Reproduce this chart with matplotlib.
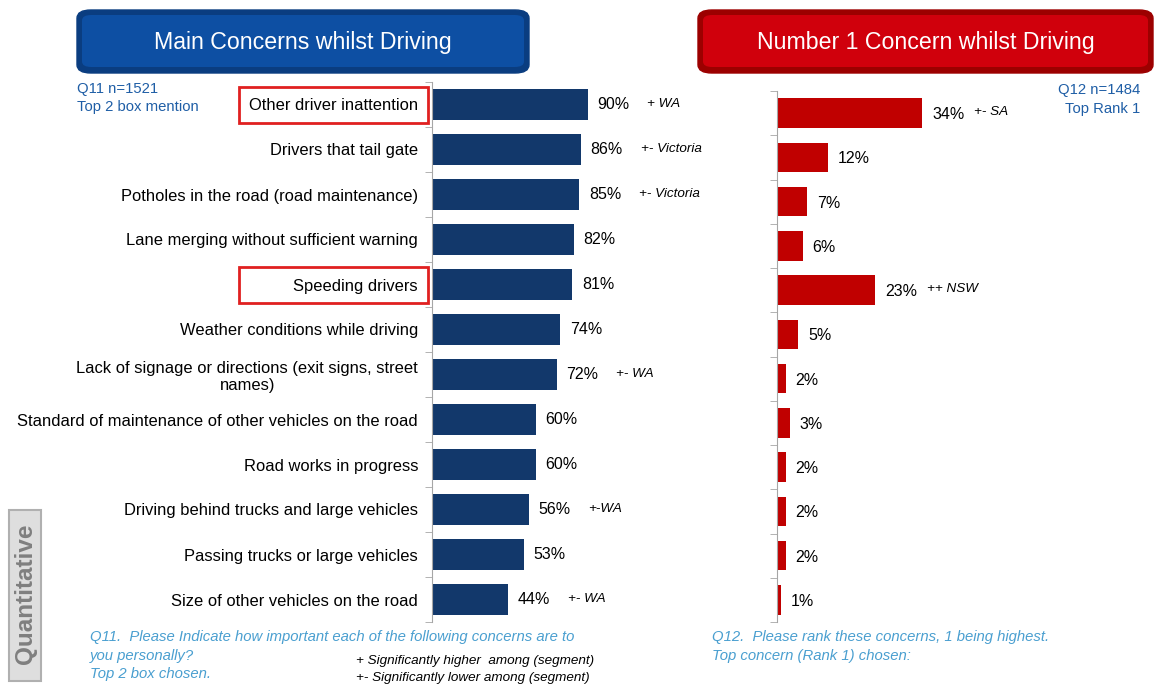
import matplotlib
matplotlib.use('Agg')
import matplotlib.pyplot as plt
import matplotlib.patches as mpatches
import matplotlib.transforms as mtransforms
import numpy as np

plt.rcParams['font.family'] = ['Liberation Sans', 'DejaVu Sans']

# main concerns, top 2 box (Q11)
concerns = ["Other driver inattention",
            "Drivers that tail gate",
            "Potholes in the road (road maintenance)",
            "Lane merging without sufficient warning",
            "Speeding drivers",
            "Weather conditions while driving",
            "Lack of signage or directions (exit signs, street\nnames)",
            "Standard of maintenance of other vehicles on the road",
            "Road works in progress",
            "Driving behind trucks and large vehicles",
            "Passing trucks or large vehicles",
            "Size of other vehicles on the road"]
top2 = [90, 86, 85, 82, 81, 74, 72, 60, 60, 56, 53, 44]
top2_sig = ["+ WA", "+- Victoria", "+- Victoria", "", "", "", "+- WA", "", "", "+-WA", "", "+- WA"]

# number 1 concern (Q12)
rank1 = [34, 12, 7, 6, 23, 5, 2, 3, 2, 2, 2, 1]
rank1_sig = ["+- SA", "", "", "", "++ NSW", "", "", "", "", "", "", ""]

highlighted = [0, 4]

NAVY = '#12386b'
RED = '#c00000'
NOTE_BLUE = '#4a9fd0'
HEAD_BLUE = '#1f5ea6'

fig = plt.figure(figsize=(11.54, 6.86), dpi=100)
W, H = 1154.0, 686.0


def px(x0, y0, x1, y1):
    # pixel box -> figure fraction [left, bottom, width, height]
    return [x0 / W, 1 - y1 / H, (x1 - x0) / W, (y1 - y0) / H]


def style_axis(ax, n):
    for s in ['top', 'right', 'bottom']:
        ax.spines[s].set_visible(False)
    ax.spines['left'].set_color('#a6a6a6')
    ax.set_ylim(n - 0.5, -0.5)
    ax.set_xticks([])
    ax.set_yticks(np.arange(n + 1) - 0.5, minor=True)
    ax.tick_params(axis='y', which='minor', length=5, color='#a6a6a6', direction='out')
    ax.tick_params(axis='y', which='major', length=0)


n = len(concerns)
y = np.arange(n)

# left panel
ax1 = fig.add_axes(px(432, 82, 605, 622))
ax1.barh(y, top2, height=0.67, color=NAVY)
ax1.set_xlim(0, 100)
style_axis(ax1, n)
ax1.set_yticks(y)
ax1.set_yticklabels(concerns, fontsize=11.9)
ax1.tick_params(axis='y', which='major', pad=10)
for lab in ax1.get_yticklabels():
    lab.set_multialignment('center')
for i, v in enumerate(top2):
    ax1.annotate(f"{v}%", (v, i), xytext=(7, 0), textcoords='offset points',
                 va='center', ha='left', fontsize=11.5)
    if top2_sig[i]:
        ax1.annotate(top2_sig[i], (v, i), xytext=(43, 0.5), textcoords='offset points',
                     va='center', ha='left', fontsize=9.7, style='italic')

# red outlines round the highlighted labels
tr = mtransforms.blended_transform_factory(fig.transFigure, ax1.transData)
for r in highlighted:
    ax1.add_patch(mpatches.Rectangle((239 / W, r - 0.4), 189 / W, 0.8, transform=tr,
                                     fill=False, edgecolor='#e02020', lw=2, clip_on=False))

# right panel
ax2 = fig.add_axes(px(777, 91, 948, 622))
ax2.barh(y, rank1, height=0.67, color=RED)
ax2.set_xlim(0, 40)
style_axis(ax2, n)
ax2.set_yticks(y)
ax2.set_yticklabels([])
for i, v in enumerate(rank1):
    ax2.annotate(f"{v}%", (v, i), xytext=(7, -1), textcoords='offset points',
                 va='center', ha='left', fontsize=11.5)
    if rank1_sig[i]:
        ax2.annotate(rank1_sig[i], (v, i), xytext=(37, 0.5), textcoords='offset points',
                     va='center', ha='left', fontsize=9.7, style='italic')


# header boxes
def header(x0, x1, dark, face, text):
    outer = mpatches.FancyBboxPatch((x0 / W, 1 - 73 / H), (x1 - x0) / W, 63 / H,
                                    boxstyle='round,pad=0,rounding_size=0.012',
                                    transform=fig.transFigure, facecolor=dark,
                                    edgecolor=dark, lw=1)
    inner = mpatches.FancyBboxPatch(((x0 + 5) / W, 1 - 67 / H), (x1 - x0 - 10) / W, 52 / H,
                                    boxstyle='round,pad=0,rounding_size=0.008',
                                    transform=fig.transFigure, facecolor=face,
                                    edgecolor='none')
    fig.patches.extend([outer, inner])
    fig.text((x0 + x1) / 2 / W, 1 - 42 / H, text, color='white', fontsize=16.7,
             ha='center', va='center')


header(77, 529, '#0a3d80', '#0d4fa3', "Main Concerns whilst Driving")
header(698, 1153, '#9c0000', '#d0000c', "Number 1 Concern whilst Driving")

# sample notes
fig.text(77 / W, 1 - 89 / H, "Q11 n=1521", color=HEAD_BLUE, fontsize=10.7, va='center')
fig.text(77 / W, 1 - 107 / H, "Top 2 box mention", color=HEAD_BLUE, fontsize=10.7, va='center')
fig.text(1140 / W, 1 - 90 / H, "Q12 n=1484", color=HEAD_BLUE, fontsize=10.7, va='center', ha='right')
fig.text(1140 / W, 1 - 109 / H, "Top Rank 1", color=HEAD_BLUE, fontsize=10.7, va='center', ha='right')

# question footnotes
fig.text(90 / W, 1 - 637 / H, "Q11.  Please Indicate how important each of the following concerns are to",
         color=NOTE_BLUE, fontsize=10.7, style='italic', va='center')
fig.text(90 / W, 1 - 656 / H, "you personally?", color=NOTE_BLUE, fontsize=10.7, style='italic', va='center')
fig.text(90 / W, 1 - 674 / H, "Top 2 box chosen.", color=NOTE_BLUE, fontsize=10.7, style='italic', va='center')
fig.text(356 / W, 1 - 661 / H, "+ Significantly higher  among (segment)", fontsize=9.7,
         style='italic', va='center')
fig.text(356 / W, 1 - 678 / H, "+- Significantly lower among (segment)", fontsize=9.7,
         style='italic', va='center')
fig.text(712 / W, 1 - 637 / H, "Q12.  Please rank these concerns, 1 being highest.",
         color=NOTE_BLUE, fontsize=10.7, style='italic', va='center')
fig.text(712 / W, 1 - 656 / H, "Top concern (Rank 1) chosen:",
         color=NOTE_BLUE, fontsize=10.7, style='italic', va='center')

# side tab
fig.patches.append(mpatches.Rectangle((9 / W, 1 - 681 / H), 32 / W, 171 / H,
                                      transform=fig.transFigure, facecolor='#dedede',
                                      edgecolor='#b0b0b0', lw=1.5))
fig.text(25 / W, 1 - 594 / H, "Quantitative", rotation=90, color='#7f7f7f',
         fontsize=17.5, fontweight='bold', ha='center', va='center')

fig.savefig('out.png', dpi=100)
